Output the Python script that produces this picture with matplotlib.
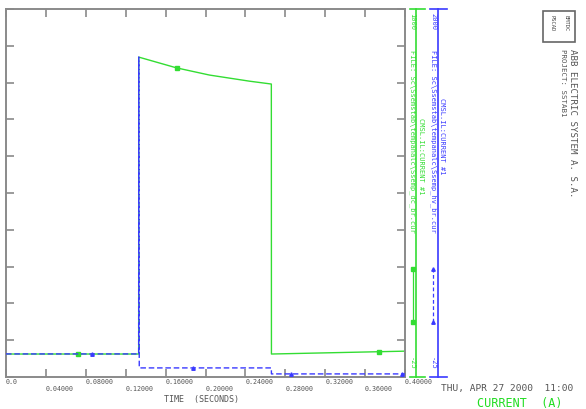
import matplotlib
matplotlib.use('Agg')
import matplotlib.pyplot as plt
import numpy as np

# time axis (seconds)
x_ticks = [0.0, 0.04, 0.08, 0.12, 0.16, 0.20, 0.24, 0.28, 0.32, 0.36, 0.40]
x_labels = ['0.0', '0.04000', '0.08000', '0.12000', '0.16000', '0.20000',
            '0.24000', '0.28000', '0.32000', '0.36000', '0.40000']

# green trace (scale -25 .. 1000)
green_t = [0.0, 0.133, 0.1331, 0.171, 0.204, 0.244, 0.266, 0.2661, 0.40]
green_i = [39, 39, 866, 836, 816, 799, 791, 39, 47]
green_mark_t = [0.072, 0.171, 0.374]
green_mark_i = [39, 836, 45]
green_lim = (-25, 1000)

# blue trace (scale -25 .. 2000)
blue_t = [0.0, 0.133, 0.1331, 0.1336, 0.266, 0.2661, 0.40]
blue_i = [102, 102, 1736, 25, 25, -8, -8]
blue_mark_t = [0.086, 0.187, 0.286, 0.397]
blue_mark_i = [102, 25, -8, -8]
blue_lim = (-25, 2000)

GREEN = '#33dd33'
BLUE = '#3a3aff'
GRAY = '#8a8a8a'
TXT = '#555555'
W, H = 586, 410
plt.rcParams['font.family'] = 'DejaVu Sans Mono'


def px(x0, y0, x1, y1):
    # pixel box (left, top, right, bottom) -> figure fraction rect
    return [x0 / W, 1 - y1 / H, (x1 - x0) / W, (y1 - y0) / H]


fig = plt.figure(figsize=(5.86, 4.10), dpi=100)
ax = fig.add_axes(px(6, 10, 405, 378))

ax.plot(green_t, green_i, color=GREEN, lw=1.0, zorder=2)
ax.plot(green_mark_t, green_mark_i, ls='none', marker='s', ms=2.5, color=GREEN, zorder=3)
ax.set_xlim(0, 0.4)
ax.set_ylim(*green_lim)

axb = ax.twinx()
axb.plot(blue_t, blue_i, color=BLUE, lw=1.0, ls=(0, (4, 2)), zorder=4)
axb.plot(blue_mark_t, blue_mark_i, ls='none', marker='^', ms=2.5, color=BLUE, zorder=5)
axb.set_ylim(*blue_lim)
axb.axis('off')

for s in ax.spines.values():
    s.set_color(GRAY)
    s.set_linewidth(1.4)
ax.set_yticks(np.linspace(green_lim[0], green_lim[1], 11))
ax.set_xticks(x_ticks)
ax.set_xticklabels([l if k % 2 == 0 else '\n' + l for k, l in enumerate(x_labels)],
                   fontsize=4.8, color=TXT, ha='left')
ax.tick_params(axis='both', direction='in', length=6, width=1.2, color=GRAY,
               top=True, right=True, labelleft=False, pad=1)
ax.set_xlabel('TIME  (SECONDS)', fontsize=6, color=TXT, labelpad=0)
ax.xaxis.set_label_coords(0.49, -0.045)


def side_scale(box, frac, color, lo, hi, ls, marker, file_txt, sig_txt, file_x, sig_x, sig_top):
    a = fig.add_axes(px(*box))
    a.axis('off')
    a.plot([frac, frac], [0, 1], color=color, lw=1.2, transform=a.transAxes, clip_on=False)
    a.plot([0, 1], [1, 1], color=color, lw=1.2, transform=a.transAxes, clip_on=False)
    a.plot([0, 1], [0, 0], color=color, lw=1.2, transform=a.transAxes, clip_on=False)
    # legend sample
    a.plot([0.2, 0.2], [0.149, 0.293], color=color, lw=0.9, ls=ls, marker=marker, ms=2.5,
           transform=a.transAxes, clip_on=False)
    fig.text(file_x / W, 1 - 13 / H, str(hi), rotation=270, fontsize=5, color=color,
             ha='center', va='top')
    fig.text(file_x / W, 1 - 370 / H, str(lo), rotation=270, fontsize=5, color=color,
             ha='center', va='bottom')
    fig.text(file_x / W, 1 - 50 / H, file_txt, rotation=270, fontsize=5, color=color,
             ha='center', va='top')
    fig.text(sig_x / W, 1 - sig_top / H, sig_txt, rotation=270, fontsize=5, color=color,
             ha='center', va='top')


side_scale((410, 10, 425, 378), 0.4, GREEN, -25, 1000, '-', 's',
           'FILE: Sc\\Ssemstab\\tempanalc\\Ssemp_dc_br.cur', 'CMSL.IL:CURRENT #1',
           412, 421, 118)
side_scale((430, 10, 447, 378), 0.47, BLUE, -25, 2000, (0, (3, 2)), '^',
           'FILE: Sc\\Ssemstab\\tempanalc\\Ssemp_hv_br.cur', 'CMSL.IL:CURRENT #1',
           433, 442, 98)

# logo box and project info
fig.add_artist(plt.Rectangle((543 / W, 1 - 43 / H), 32 / W, 31 / H, transform=fig.transFigure,
                             fill=False, edgecolor='#666666', lw=1.2))
fig.text(552 / W, 1 - 15 / H, 'PSCAD', rotation=270, fontsize=4, color='#444444',
         ha='center', va='top')
fig.text(566 / W, 1 - 15 / H, 'EMTDC', rotation=270, fontsize=4, color='#444444',
         ha='center', va='top')
fig.text(563 / W, 1 - 49 / H, 'PROJECT: SSTAB1', rotation=270, fontsize=5.3, color=TXT,
         ha='center', va='top')
fig.text(572 / W, 1 - 49 / H, 'ABB ELECTRIC SYSTEM A. S.A.', rotation=270, fontsize=6.6,
         color=TXT, ha='center', va='top')

fig.text(507 / W, 1 - 389 / H, 'THU, APR 27 2000  11:00', fontsize=6.8, color=TXT,
         ha='center', va='center')
fig.text(520 / W, 1 - 404 / H, 'CURRENT  (A)', fontsize=8.5, color='#22dd22',
         ha='center', va='center')

fig.savefig('out.png', dpi=100, facecolor='white')
